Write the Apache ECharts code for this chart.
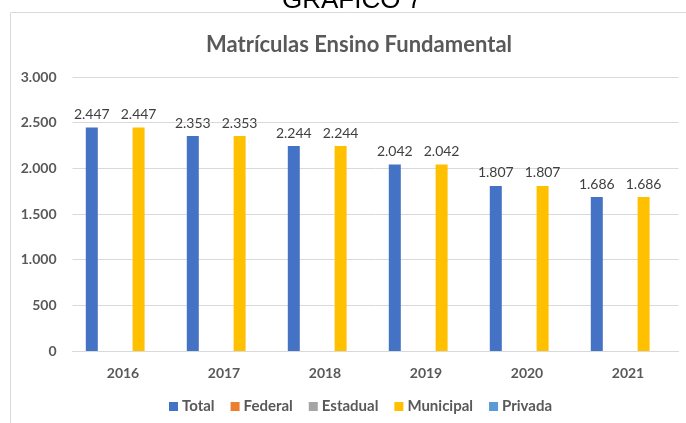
<!DOCTYPE html>
<html><head><meta charset="utf-8">
<script src="https://cdn.jsdelivr.net/npm/echarts@6/dist/echarts.min.js"></script>
<style>html,body{margin:0;padding:0;background:#fff}#c{width:686px;height:423px}</style>
</head><body><div id="c"></div>
<script>
const categories = ['2016','2017','2018','2019','2020','2021'];
const totalValues = [2447, 2353, 2244, 2042, 1807, 1686];
const federalValues = [null, null, null, null, null, null];
const estadualValues = [null, null, null, null, null, null];
const municipalValues = [2447, 2353, 2244, 2042, 1807, 1686];
const privadaValues = [null, null, null, null, null, null];
const yTicks = [0, 500, 1000, 1500, 2000, 2500, 3000];

const fmt = v => String(v).replace(/\B(?=(\d{3})+(?!\d))/g, '.');
const FONT = 'Lato, "Open Sans", sans-serif';
const chart = echarts.init(document.getElementById('c'), null, {renderer:'canvas'});
function s(name, data, color) {
  return {
    name, type:'bar', data, barWidth:12, barGap:'30%',
    itemStyle:{color},
    label:{show:true, position:'top', distance:6, color:'#404040', fontFamily:FONT, fontSize:14,
      formatter:p => p.value == null ? '' : fmt(p.value)}
  };
}
chart.setOption({
  animation:false,
  textStyle:{fontFamily:FONT},
  graphic:[
    {type:'rect', shape:{x:10.5, y:12.5, width:700, height:420}, style:{fill:'none', stroke:'#d9d9d9', lineWidth:1}, z:-1},
    {type:'text', x:352, y:14, style:{text:'GRÁFICO 7', align:'center', verticalAlign:'bottom', font:'26px "Liberation Sans", Arial, sans-serif', fill:'#000'}}
  ],
  title:{text:'Matrículas Ensino Fundamental', left:354, textAlign:'center', top:29,
    textStyle:{fontFamily:FONT, fontWeight:'bold', fontSize:22, color:'#595959'}},
  grid:{left:72.5, right:7.5, top:77, bottom:72, containLabel:false},
  legend:{bottom:4, left:164, itemWidth:9, itemHeight:9, itemGap:16, icon:'rect',
    textStyle:{fontFamily:FONT, fontWeight:'bold', fontSize:15, color:'#595959', padding:[0,0,0,-1]},
    data:['Total','Federal','Estadual','Municipal','Privada']},
  xAxis:{type:'category', data:categories,
    axisLine:{lineStyle:{color:'#d9d9d9'}}, axisTick:{show:false},
    axisLabel:{color:'#595959', fontWeight:'bold', fontSize:14, margin:15, fontFamily:FONT}},
  yAxis:{type:'value', min:yTicks[0], max:yTicks[yTicks.length-1], interval:500,
    axisLine:{show:false}, axisTick:{show:false},
    splitLine:{lineStyle:{color:'#d9d9d9'}},
    axisLabel:{color:'#595959', fontWeight:'bold', fontSize:14, margin:16, fontFamily:FONT, formatter:v => fmt(v)}},
  series:[
    s('Total', totalValues, '#4472c4'),
    s('Federal', federalValues, '#ed7d31'),
    s('Estadual', estadualValues, '#a5a5a5'),
    s('Municipal', municipalValues, '#ffc000'),
    s('Privada', privadaValues, '#5b9bd5')
  ]
});
</script></body></html>
